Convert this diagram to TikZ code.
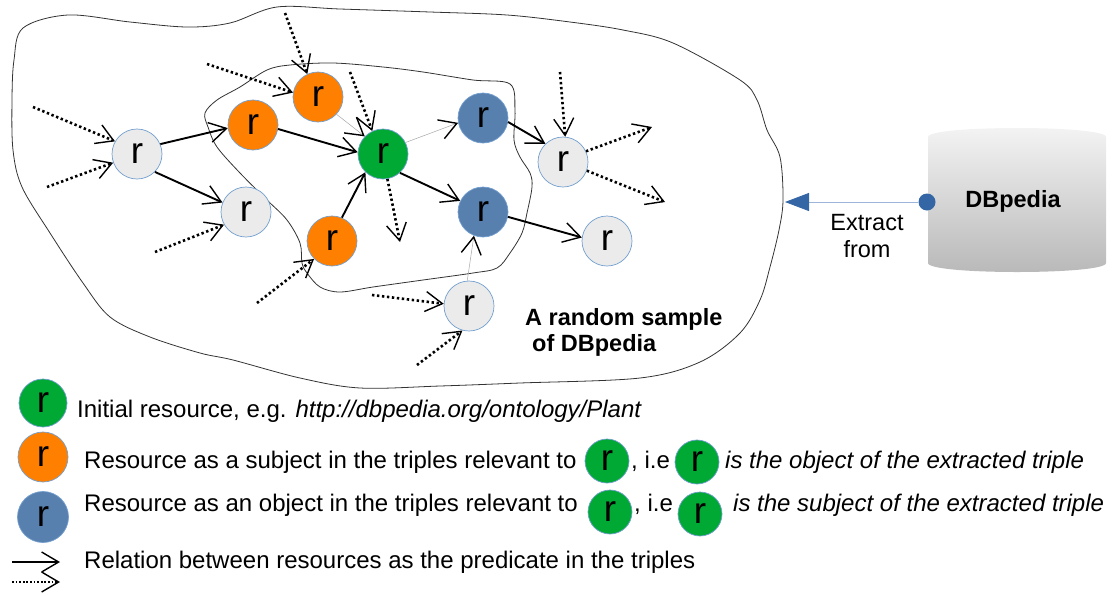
\documentclass[tikz,border=0pt]{standalone}
\usepackage{fontspec}
\setmainfont{Liberation Sans}
\usetikzlibrary{arrows.meta}
\definecolor{rgray}{HTML}{EBEBEB}
\definecolor{rborder}{HTML}{729FCF}
\definecolor{rorange}{HTML}{FF8000}
\definecolor{rgreen}{HTML}{00A933}
\definecolor{rblue}{HTML}{5880AE}
\definecolor{xblue}{HTML}{3465A4}
\definecolor{xline}{HTML}{9DB5D9}
\definecolor{blobline}{HTML}{333333}
\definecolor{cyltop}{HTML}{F4F4F4}
\definecolor{cylmid}{HTML}{E2E2E2}
\definecolor{cylbot}{HTML}{B8B8B8}
\begin{document}
\begin{tikzpicture}[x=1pt,y=-1pt,
  res/.style={circle, minimum size=50pt, inner sep=0pt, draw=rborder, line width=0.7pt, font=\fontsize{37}{37}\selectfont},
  grayres/.style={res, fill=rgray},
  orres/.style={res, fill=rorange},
  grres/.style={res, fill=rgreen},
  blres/.style={res, fill=rblue},
  rel/.style={line width=1.9pt, -{Straight Barb[length=17pt,width=20pt,line width=1.4pt]}},
  dotrel/.style={line width=2.6pt, dash pattern=on 2.4pt off 2.6pt, -{Straight Barb[length=17pt,width=20pt,line width=1.4pt]}},
  thinrel/.style={line width=0.5pt, draw=black!35, -{Straight Barb[length=17pt,width=20pt,line width=1.4pt,color=black]}},
  blob/.style={draw=blobline, line width=0.8pt},
  lbl/.style={font=\fontsize{24}{28}\selectfont, anchor=base west, inner sep=0pt},
  boldlbl/.style={font=\fontsize{23.5}{27}\selectfont\bfseries, inner sep=0pt},
]
\useasboundingbox (0,0) rectangle (1113,595);

% outer blob
\draw[blob] plot[smooth cycle, tension=0.55] coordinates {
  (23,28) (68,15) (130,22) (187,27) (230,23) (277,7) (340,9) (430,12) (507,15)
  (570,22) (623,30) (673,43) (740,80) (757,100) (767,130) (780,157) (783,200)
  (779,230) (770,267) (760,300) (740,333) (700,362) (640,378) (520,383) (440,386)
  (360,388) (300,378) (233,360) (200,353) (150,337) (110,317) (83,283) (50,233)
  (22,187) (13,150) (12,100) (14,60)};

% inner blob
\draw[blob] plot[smooth cycle, tension=0.55] coordinates {
  (205,113) (217,100) (240,87) (267,70) (290,65) (333,63) (383,67) (423,72)
  (473,80) (510,84) (515,110) (514,140) (520,157) (530,173) (532,187) (527,213)
  (522,233) (510,253) (497,268) (473,273) (423,280) (373,287) (340,292) (320,287)
  (307,273) (302,263) (300,243) (287,220) (267,200) (240,173) (217,147) (208,127)};

% resource nodes
\node[grayres] (A) at (137,154) {r};
\node[orres]   (B) at (253,125) {r};
\node[orres]   (C) at (318,97)  {r};
\node[grayres] (D) at (246,212) {r};
\node[orres]   (E) at (332,241) {r};
\node[grres]   (G) at (383,154) {r};
\node[blres]   (H1) at (483,118) {r};
\node[blres]   (H2) at (483,212) {r};
\node[grayres] (I) at (563,162) {r};
\node[grayres] (J) at (607,241) {r};
\node[grayres] (K) at (469,306) {r};

% free ends of dotted relations
\coordinate (d1) at (33,107);
\coordinate (d2) at (47,187);
\coordinate (d3) at (155,252);
\coordinate (d4) at (207,64);
\coordinate (d5) at (285,13);
\coordinate (d6) at (257,303);
\coordinate (d7) at (350,72);
\coordinate (d8) at (400,242);
\coordinate (d9) at (372,295);
\coordinate (d10) at (417,365);
\coordinate (d11) at (560,72);
\coordinate (o1) at (652,127);
\coordinate (o2) at (665,202);

% solid relations
\draw[rel] (A.23) -- (B.187);
\draw[rel] (A.-45) -- (D.158);
\draw[rel] (B.-9) -- (G.176);
\draw[rel] (E.67) -- (G.226);
\draw[rel] (G.-48) -- (H2.154);
\draw[rel] (H1.-9) -- (I.134);
\draw[rel] (H2.-11) -- (J.172);
\draw[thinrel] (C.-43) -- (G.136);
\draw[thinrel] (G.27) -- (H1.191);
\draw[thinrel] (K.94) -- (H2.249);

% dotted relations
\draw[dotrel] (d1) -- (A.150);
\draw[dotrel] (d2) -- (A.200);
\draw[dotrel] (d3) -- (D.210);
\draw[dotrel] (d4) -- (C.170);
\draw[dotrel] (d5) -- (C.115);
\draw[dotrel] (d6) -- (E.225);
\draw[dotrel] (d7) -- (G.115);
\draw[dotrel] (G.280) -- (d8);
\draw[dotrel] (d9) -- (K.175);
\draw[dotrel] (d10) -- (K.255);
\draw[dotrel] (d11) -- (I.85);
\draw[dotrel] (I.25) -- (o1);
\draw[dotrel] (I.-20) -- (o2);

% sample label
\node[boldlbl, anchor=base west] (samp1) at (525,325) {A random sample};
\node[boldlbl, anchor=base west] (samp2) at (532,351) {of DBpedia};

% DBpedia cylinder
\shade[top color=cyltop, middle color=cylmid, bottom color=cylbot]
  (928,137) -- (928,263) .. controls (928,275) and (1106,275) .. (1106,263)
  -- (1106,137) .. controls (1106,125) and (928,125) .. (928,137) -- cycle;
\node[boldlbl] (db) at (1013,201) {DBpedia};

% extract arrow
\node[circle, fill=xblue, minimum size=17pt, inner sep=0pt] (xdot) at (927,202) {};
\coordinate (xtip) at (785,202);
\draw[xline, line width=0.8pt, -{Triangle[length=24pt,width=18pt,color=xblue]}] (xdot) -- (xtip);
\node[font=\fontsize{23.5}{27}\selectfont, align=center, inner sep=0pt] (xlbl) at (867,236) {Extract\\from};

% legend
\node[grres, minimum size=48pt] (lg) at (43,403) {r};
\node[lbl] (lt1) at (77,417) {Initial resource, e.g. \textit{http://dbpedia.org/ontology/Plant}};
\node[orres, minimum size=50pt] (lo) at (43,457) {r};
\node[lbl] (lt2a) at (84,468) {Resource as a subject in the triples relevant to};
\node[grres, minimum size=44pt] (lg2a) at (607,461) {r};
\node[lbl] (lt2b) at (631,468) {, i.e};
\node[grres, minimum size=44pt] (lg2b) at (697,462) {r};
\node[lbl] (lt2c) at (725,468) {\textit{is the object of the extracted triple}};
\node[blres, minimum size=51pt] (lb) at (43,517) {r};
\node[lbl] (lt3a) at (84,511) {Resource as an object in the triples relevant to};
\node[grres, minimum size=44pt] (lg3a) at (610,512) {r};
\node[lbl] (lt3b) at (634,511) {, i.e};
\node[grres, minimum size=44pt] (lg3b) at (700,514) {r};
\node[lbl] (lt3c) at (733,511) {\textit{is the subject of the extracted triple}};
\node[lbl] (lt4) at (84,568) {Relation between resources as the predicate in the triples};
\coordinate (ls1) at (12,562);
\coordinate (ls2) at (60,562);
\coordinate (ld1) at (12,582);
\coordinate (ld2) at (60,582);
\draw[rel, line width=1.6pt] (ls1) -- (ls2);
\draw[dotrel, line width=1.8pt, dash pattern=on 1.8pt off 1.8pt] (ld1) -- (ld2);
\end{tikzpicture}
\end{document}
